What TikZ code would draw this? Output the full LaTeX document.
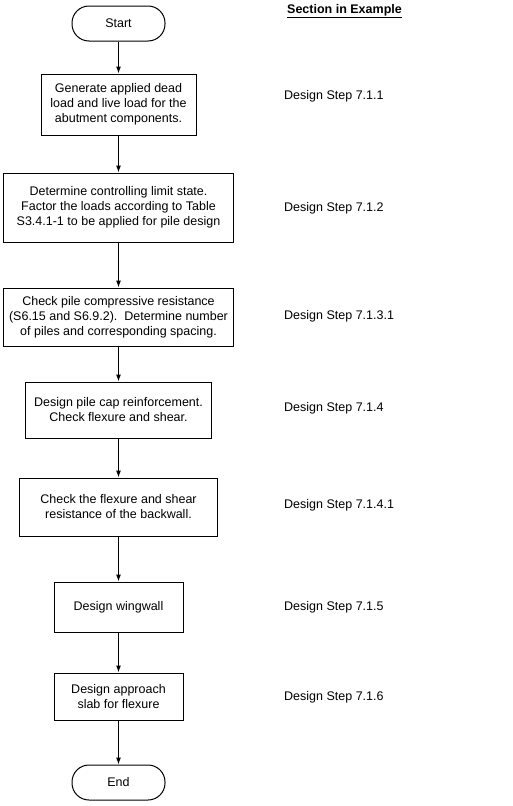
\documentclass[tikz,border=0pt]{standalone}
\usepackage{fontspec}
\setmainfont{Liberation Sans}
\usetikzlibrary{arrows.meta}
\begin{document}
\begin{tikzpicture}[x=1pt,y=-1pt,
  every node/.style={font=\fontsize{12.5}{15}\selectfont, inner sep=0pt, align=center},
  stepbox/.style={draw, line width=1pt, rectangle},
  term/.style={draw, line width=1pt, rectangle, rounded corners=17pt, minimum width=93pt, minimum height=35pt},
  lbl/.style={anchor=west},
  flow/.style={line width=1pt, -{Latex[length=7pt,width=5pt]}}
]
\useasboundingbox (0,0) rectangle (512,806);
\node[term] (start) at (118.5,23.5) {Start};
\node[stepbox, minimum width=155pt, minimum height=61pt] (b1) at (118.5,104.5) {Generate applied dead\\load and live load for the\\abutment components.};
\node[stepbox, minimum width=230pt, minimum height=69pt] (b2) at (118.5,207.5) {Determine controlling limit state.\\Factor the loads according to Table\\S3.4.1-1 to be applied for pile design};
\node[stepbox, minimum width=230pt, minimum height=58pt] (b3) at (118.5,317) {Check pile compressive resistance\\(S6.15 and S6.9.2).\ \ Determine number\\of piles and corresponding spacing.};
\node[stepbox, minimum width=186pt, minimum height=56pt] (b4) at (118.5,410) {Design pile cap reinforcement.\\Check flexure and shear.};
\node[stepbox, minimum width=198pt, minimum height=58pt] (b5) at (118.5,507) {Check the flexure and shear\\resistance of the backwall.};
\node[stepbox, minimum width=129pt, minimum height=50pt] (b6) at (118.5,607) {Design wingwall};
\node[stepbox, minimum width=129pt, minimum height=47pt] (b7) at (118.5,696.5) {Design approach\\slab for flexure};
\node[term] (end) at (118.5,782.5) {End};

\draw[flow] (start) -- (b1);
\draw[flow] (b1) -- (b2);
\draw[flow] (b2) -- (b3);
\draw[flow] (b3) -- (b4);
\draw[flow] (b4) -- (b5);
\draw[flow] (b5) -- (b6);
\draw[flow] (b6) -- (b7);
\draw[flow] (b7) -- (end);

\node[lbl] (hdr) at (287,11) {\underline{\textbf{Section in Example}}};
\node[lbl] (l1) at (284,96) {Design Step 7.1.1};
\node[lbl] (l2) at (284,208) {Design Step 7.1.2};
\node[lbl] (l3) at (284,316.5) {Design Step 7.1.3.1};
\node[lbl] (l4) at (284,408) {Design Step 7.1.4};
\node[lbl] (l5) at (284,505) {Design Step 7.1.4.1};
\node[lbl] (l6) at (284,607) {Design Step 7.1.5};
\node[lbl] (l7) at (284,697) {Design Step 7.1.6};
\end{tikzpicture}
\end{document}
